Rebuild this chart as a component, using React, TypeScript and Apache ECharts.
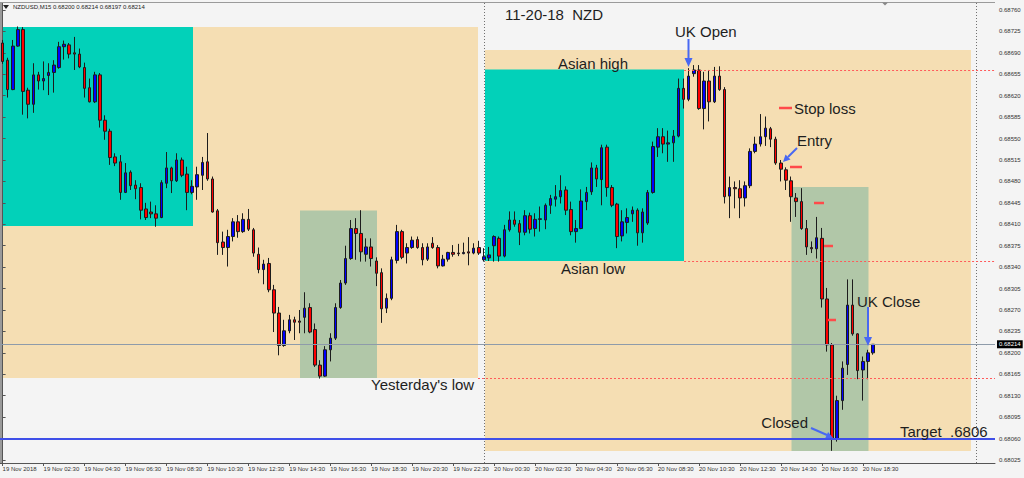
import React, { useEffect, useRef } from "react";
import * as echarts from "echarts";

const FONT = '"Liberation Sans", Arial, sans-serif';

// ---- axis tick labels ----
const xTickLabels = [
  "19 Nov 2018", "19 Nov 02:30", "19 Nov 04:30", "19 Nov 06:30", "19 Nov 08:30",
  "19 Nov 10:30", "19 Nov 12:30", "19 Nov 14:30", "19 Nov 16:30", "19 Nov 18:30",
  "19 Nov 20:30", "19 Nov 22:30", "20 Nov 00:30", "20 Nov 02:30", "20 Nov 04:30",
  "20 Nov 06:30", "20 Nov 08:30", "20 Nov 10:30", "20 Nov 12:30", "20 Nov 14:30",
  "20 Nov 16:30", "20 Nov 18:30",
];
const BARS_PER_LABEL = 8; // M15 bars, label every 2 hours

const yTickValues = [
  0.68025, 0.68060, 0.68095, 0.68130, 0.68165, 0.68200, 0.68235, 0.68270, 0.68305,
  0.68340, 0.68375, 0.68410, 0.68445, 0.68480, 0.68515, 0.68550, 0.68585, 0.68620,
  0.68655, 0.68690, 0.68725, 0.68760,
];

// ---- NZDUSD M15 candles (open, close, low, high) ----
const opens = [
  0.68706, 0.68678, 0.68630, 0.68701, 0.68728, 0.68629, 0.68606, 0.68654, 0.68644, 0.68653,
  0.68658, 0.68666, 0.68700, 0.68703, 0.68690, 0.68688, 0.68666, 0.68633, 0.68610, 0.68654,
  0.68580, 0.68562, 0.68520, 0.68512, 0.68462, 0.68495, 0.68474, 0.68470, 0.68435, 0.68430,
  0.68427, 0.68421, 0.68477, 0.68502, 0.68481, 0.68515, 0.68492, 0.68462, 0.68471, 0.68490,
  0.68512, 0.68484, 0.68432, 0.68381, 0.68372, 0.68390, 0.68414, 0.68398, 0.68418, 0.68401,
  0.68361, 0.68336, 0.68346, 0.68303, 0.68265, 0.68212, 0.68236, 0.68254, 0.68252, 0.68258,
  0.68274, 0.68238, 0.68180, 0.68162, 0.68205, 0.68224, 0.68274, 0.68314, 0.68354, 0.68403,
  0.68395, 0.68361, 0.68373, 0.68350, 0.68331, 0.68273, 0.68289, 0.68351, 0.68398, 0.68363,
  0.68372, 0.68385, 0.68372, 0.68353, 0.68379, 0.68372, 0.68342, 0.68353, 0.68364, 0.68363,
  0.68362, 0.68365, 0.68363, 0.68372, 0.68352, 0.68355, 0.68375, 0.68387, 0.68358, 0.68401,
  0.68417, 0.68411, 0.68397, 0.68424, 0.68403, 0.68418, 0.68417, 0.68441, 0.68451, 0.68455,
  0.68466, 0.68434, 0.68398, 0.68403, 0.68447, 0.68463, 0.68502, 0.68483, 0.68536, 0.68470,
  0.68443, 0.68391, 0.68413, 0.68427, 0.68433, 0.68396, 0.68412, 0.68462, 0.68536, 0.68553,
  0.68541, 0.68543, 0.68554, 0.68632, 0.68614, 0.68656, 0.68662, 0.68599, 0.68644, 0.68610,
  0.68652, 0.68630, 0.68456, 0.68470, 0.68468, 0.68453, 0.68473, 0.68529, 0.68541, 0.68553,
  0.68566, 0.68549, 0.68510, 0.68499, 0.68481, 0.68453, 0.68447, 0.68403, 0.68372, 0.68370,
  0.68387, 0.68288, 0.68213, 0.68060, 0.68122, 0.68181, 0.68278, 0.68231, 0.68172, 0.68186,
  0.68200,
];
const closes = [
  0.68676, 0.68630, 0.68701, 0.68728, 0.68627, 0.68606, 0.68654, 0.68644, 0.68648, 0.68658,
  0.68670, 0.68700, 0.68704, 0.68688, 0.68688, 0.68667, 0.68632, 0.68610, 0.68654, 0.68580,
  0.68562, 0.68519, 0.68510, 0.68462, 0.68494, 0.68473, 0.68468, 0.68433, 0.68421, 0.68427,
  0.68420, 0.68478, 0.68502, 0.68481, 0.68515, 0.68490, 0.68462, 0.68472, 0.68491, 0.68511,
  0.68484, 0.68430, 0.68380, 0.68372, 0.68390, 0.68414, 0.68398, 0.68418, 0.68402, 0.68363,
  0.68336, 0.68345, 0.68303, 0.68265, 0.68212, 0.68236, 0.68254, 0.68250, 0.68250, 0.68273,
  0.68234, 0.68180, 0.68162, 0.68205, 0.68224, 0.68274, 0.68314, 0.68354, 0.68403, 0.68395,
  0.68365, 0.68373, 0.68354, 0.68330, 0.68272, 0.68289, 0.68352, 0.68398, 0.68356, 0.68372,
  0.68384, 0.68372, 0.68352, 0.68373, 0.68372, 0.68342, 0.68353, 0.68364, 0.68361, 0.68362,
  0.68364, 0.68363, 0.68371, 0.68363, 0.68357, 0.68360, 0.68390, 0.68358, 0.68401, 0.68417,
  0.68410, 0.68397, 0.68424, 0.68402, 0.68418, 0.68419, 0.68441, 0.68452, 0.68455, 0.68465,
  0.68433, 0.68398, 0.68403, 0.68448, 0.68462, 0.68502, 0.68484, 0.68535, 0.68470, 0.68441,
  0.68390, 0.68414, 0.68421, 0.68433, 0.68396, 0.68430, 0.68462, 0.68537, 0.68553, 0.68541,
  0.68543, 0.68554, 0.68632, 0.68614, 0.68652, 0.68662, 0.68599, 0.68644, 0.68610, 0.68652,
  0.68630, 0.68455, 0.68470, 0.68468, 0.68453, 0.68473, 0.68529, 0.68541, 0.68553, 0.68567,
  0.68549, 0.68510, 0.68500, 0.68482, 0.68455, 0.68447, 0.68403, 0.68373, 0.68370, 0.68388,
  0.68288, 0.68213, 0.68060, 0.68122, 0.68175, 0.68278, 0.68231, 0.68171, 0.68186, 0.68200,
  0.68214,
];
const lows = [
  0.68672, 0.68617, 0.68629, 0.68700, 0.68589, 0.68583, 0.68592, 0.68630, 0.68629, 0.68621,
  0.68625, 0.68664, 0.68679, 0.68681, 0.68662, 0.68665, 0.68617, 0.68609, 0.68608, 0.68568,
  0.68548, 0.68507, 0.68505, 0.68450, 0.68461, 0.68466, 0.68451, 0.68418, 0.68417, 0.68420,
  0.68406, 0.68420, 0.68469, 0.68461, 0.68479, 0.68487, 0.68433, 0.68459, 0.68450, 0.68466,
  0.68481, 0.68429, 0.68360, 0.68360, 0.68341, 0.68382, 0.68388, 0.68396, 0.68399, 0.68357,
  0.68330, 0.68312, 0.68299, 0.68234, 0.68196, 0.68210, 0.68232, 0.68221, 0.68232, 0.68232,
  0.68232, 0.68177, 0.68158, 0.68161, 0.68186, 0.68221, 0.68272, 0.68311, 0.68352, 0.68352,
  0.68349, 0.68349, 0.68341, 0.68309, 0.68249, 0.68265, 0.68286, 0.68346, 0.68353, 0.68346,
  0.68370, 0.68370, 0.68343, 0.68350, 0.68370, 0.68338, 0.68341, 0.68349, 0.68357, 0.68358,
  0.68361, 0.68343, 0.68361, 0.68360, 0.68349, 0.68350, 0.68349, 0.68349, 0.68356, 0.68398,
  0.68406, 0.68376, 0.68392, 0.68395, 0.68390, 0.68398, 0.68402, 0.68427, 0.68439, 0.68444,
  0.68425, 0.68392, 0.68380, 0.68402, 0.68433, 0.68458, 0.68471, 0.68441, 0.68455, 0.68438,
  0.68371, 0.68382, 0.68395, 0.68414, 0.68375, 0.68380, 0.68409, 0.68460, 0.68520, 0.68526,
  0.68512, 0.68512, 0.68552, 0.68599, 0.68611, 0.68651, 0.68597, 0.68565, 0.68578, 0.68608,
  0.68628, 0.68444, 0.68420, 0.68436, 0.68420, 0.68439, 0.68469, 0.68526, 0.68537, 0.68538,
  0.68536, 0.68507, 0.68480, 0.68466, 0.68414, 0.68422, 0.68401, 0.68360, 0.68363, 0.68354,
  0.68274, 0.68202, 0.68040, 0.68055, 0.68107, 0.68164, 0.68228, 0.68157, 0.68122, 0.68157,
  0.68197,
];
const highs = [
  0.68711, 0.68682, 0.68711, 0.68733, 0.68732, 0.68633, 0.68673, 0.68659, 0.68676, 0.68673,
  0.68678, 0.68708, 0.68710, 0.68706, 0.68716, 0.68697, 0.68674, 0.68648, 0.68659, 0.68657,
  0.68588, 0.68566, 0.68526, 0.68523, 0.68510, 0.68498, 0.68482, 0.68477, 0.68445, 0.68447,
  0.68441, 0.68482, 0.68528, 0.68504, 0.68526, 0.68519, 0.68504, 0.68482, 0.68504, 0.68520,
  0.68559, 0.68488, 0.68435, 0.68398, 0.68401, 0.68420, 0.68425, 0.68428, 0.68435, 0.68404,
  0.68372, 0.68352, 0.68355, 0.68311, 0.68275, 0.68254, 0.68262, 0.68259, 0.68270, 0.68299,
  0.68281, 0.68248, 0.68188, 0.68211, 0.68232, 0.68281, 0.68319, 0.68375, 0.68417, 0.68420,
  0.68433, 0.68387, 0.68387, 0.68356, 0.68338, 0.68297, 0.68357, 0.68409, 0.68401, 0.68379,
  0.68390, 0.68390, 0.68379, 0.68379, 0.68389, 0.68376, 0.68360, 0.68365, 0.68376, 0.68378,
  0.68380, 0.68389, 0.68379, 0.68383, 0.68371, 0.68373, 0.68392, 0.68390, 0.68409, 0.68431,
  0.68431, 0.68417, 0.68433, 0.68429, 0.68428, 0.68439, 0.68444, 0.68458, 0.68474, 0.68490,
  0.68472, 0.68447, 0.68417, 0.68467, 0.68471, 0.68511, 0.68507, 0.68540, 0.68540, 0.68474,
  0.68445, 0.68433, 0.68436, 0.68439, 0.68436, 0.68436, 0.68466, 0.68545, 0.68567, 0.68567,
  0.68563, 0.68564, 0.68648, 0.68648, 0.68665, 0.68670, 0.68670, 0.68659, 0.68662, 0.68667,
  0.68668, 0.68634, 0.68488, 0.68480, 0.68482, 0.68480, 0.68534, 0.68553, 0.68590, 0.68586,
  0.68569, 0.68553, 0.68515, 0.68503, 0.68488, 0.68461, 0.68469, 0.68417, 0.68382, 0.68422,
  0.68404, 0.68306, 0.68216, 0.68130, 0.68186, 0.68320, 0.68320, 0.68232, 0.68194, 0.68205,
  0.68214,
];

// ---- key price levels ----
const lastPrice = 0.68214;
const targetPrice = 0.6806;
const asianHigh = 0.68662;
const asianLow = 0.6835;
const yesterdayLow = 0.68159;
const asianEndBar = 133.1;
const yesterdayLineStartBar = 92.85;

// axis extents (bar index units / price)
const X_MIN = -0.508;
const X_MAX = 193.83;
const Y_MIN = 0.680201;
const Y_MAX = 0.687714;

const ARROW = "#4868F2";
const STOP = "#FF4A4A";
const DOTRED = "#FF5A5A";
const TEXT = "#1E1E1E";

function rect(x: number, y: number, w: number, h: number, fill: string) {
  return { type: "rect", z: 0, silent: true, shape: { x, y, width: w, height: h }, style: { fill } };
}
function seg(x1: number, y1: number, x2: number, y2: number, stroke: string, lineWidth: number, z = 5, lineDash?: number[]) {
  return { type: "line", z, silent: true, shape: { x1, y1, x2, y2 }, style: { stroke, lineWidth, lineDash } };
}
function txt(text: string, x: number, y: number, size = 15, align = "left", fill = TEXT) {
  return {
    type: "text", z: 10, silent: true, x, y,
    style: { text, fill, fontSize: size, fontFamily: FONT, align, verticalAlign: "middle", textAlign: align, textVerticalAlign: "middle" },
  };
}
function head(points: number[][]) {
  return { type: "polygon", z: 10, silent: true, shape: { points }, style: { fill: ARROW } };
}
function hLine(x0: number, x1: number, y: number, lineStyle: any, label: any = { show: false }) {
  return [
    { coord: [x0, y], lineStyle, label },
    { coord: [x1, y], lineStyle, label },
  ];
}

export default function App() {
  const ref = useRef<HTMLDivElement>(null);
  useEffect(() => {
    if (!ref.current) return;
    const chart = echarts.init(ref.current, null, { renderer: "svg" });
    const xTickValues = xTickLabels.map((_, i) => i * BARS_PER_LABEL);
    const last = opens.length - 1;
    const header = `NZDUSD,M15 ${opens[last].toFixed(5)} ${highs[last].toFixed(5)} ${lows[last].toFixed(5)} ${closes[last].toFixed(5)}`;
    const dotted = { color: DOTRED, width: 1, type: [2, 2] };
    const lastLabel = {
      show: true,
      position: "end",
      formatter: lastPrice.toFixed(5),
      backgroundColor: "#000",
      color: "#fff",
      fontSize: 6,
      fontFamily: FONT,
      padding: [1, 2],
      distance: 2,
    };

    const option: any = {
      animation: false,
      backgroundColor: "#F4F4F4",
      grid: { left: 0, top: 3, width: 995, height: 460, containLabel: false, outerBoundsMode: "none" },
      xAxis: {
        type: "value",
        min: X_MIN,
        max: X_MAX,
        axisLine: { show: true, lineStyle: { color: "#555", width: 1 } },
        axisTick: { show: true, customValues: xTickValues, length: 3, lineStyle: { color: "#555" } },
        axisLabel: {
          show: true,
          customValues: xTickValues,
          formatter: (v: number) => xTickLabels[Math.round(v / BARS_PER_LABEL)] ?? "",
          align: "left",
          fontSize: 6,
          fontFamily: FONT,
          color: "#333",
          margin: 3,
        },
        splitLine: { show: false },
      },
      yAxis: {
        type: "value",
        position: "right",
        min: Y_MIN,
        max: Y_MAX,
        axisLine: { show: true, lineStyle: { color: "#555", width: 1 } },
        axisTick: { show: true, customValues: yTickValues, length: 3, lineStyle: { color: "#555" } },
        axisLabel: {
          show: true,
          customValues: yTickValues,
          formatter: (v: number) => v.toFixed(5),
          fontSize: 6,
          fontFamily: FONT,
          color: "#333",
          margin: 4,
        },
        splitLine: { show: false },
      },
      series: [
        {
          type: "candlestick",
          z: 2,
          barWidth: 3,
          data: opens.map((o, i) => [i, o, closes[i], lows[i], highs[i]]),
          itemStyle: {
            color: "#0000FF",
            color0: "#FF0000",
            borderColor: "#1C1C1C",
            borderColor0: "#1C1C1C",
            borderColorDoji: "#1C1C1C",
            borderWidth: 1,
          },
          markLine: {
            silent: true,
            animation: false,
            symbol: ["none", "none"],
            label: { show: false },
            data: [
              hLine(asianEndBar, X_MAX, asianHigh, dotted),
              hLine(asianEndBar, X_MAX, asianLow, dotted),
              hLine(yesterdayLineStartBar, X_MAX, yesterdayLow, dotted),
              hLine(X_MIN, X_MAX, targetPrice, { color: "#3F4FE8", width: 2, type: "solid" }),
              hLine(X_MIN, X_MAX, lastPrice, { color: "#8E9BAA", width: 1, type: "solid" }, lastLabel),
            ],
          },
        },
      ],
      graphic: [
        // session / zone boxes
        rect(1, 27, 477, 351, "#F5DEB3"),
        rect(1, 27, 192, 199, "#02D1B9"),
        rect(300, 210.5, 77, 167.5, "#B1C7A8"),
        rect(485, 50, 486, 401, "#F5DEB3"),
        rect(485, 69.5, 199, 191.5, "#02D1B9"),
        rect(791.5, 187, 77, 264, "#B1C7A8"),
        // borders and separators
        seg(0, 2.5, 995, 2.5, "#9A9A9A", 1, 1),
        seg(1, 3, 1, 463, "#9A9A9A", 2, 1),
        seg(484.5, 3, 484.5, 463, "#707070", 1, 1, [1, 2]),
        seg(976.5, 3, 976.5, 463, "#707070", 1, 1, [1, 2]),
        // header
        { type: "polygon", z: 10, silent: true, shape: { points: [[3, 5], [9, 5], [6, 9]] }, style: { fill: "#222" } },
        txt(header, 13, 7, 6, "left", "#222"),
        { type: "polygon", z: 10, silent: true, shape: { points: [[882, 2.5], [888, 2.5], [885, 5.5]] }, style: { fill: "#888" } },
        // stop-loss markers
        seg(779, 108, 792, 108, STOP, 2.5),
        seg(790, 167, 802, 167, STOP, 2.5),
        seg(814, 203, 824, 203, STOP, 2.5),
        seg(824, 246, 833, 246, STOP, 2.5),
        seg(828, 320, 836, 320, STOP, 2.5),
        // arrows
        seg(688.5, 39, 688.5, 60, ARROW, 2, 10),
        head([[684.5, 58], [692.5, 58], [688.5, 67]]),
        seg(797, 148, 788, 157, ARROW, 2, 10),
        head([[783, 162], [790.5, 159.5], [785.5, 154.5]]),
        seg(868, 307, 868, 338, ARROW, 2, 10),
        head([[864, 337], [872, 337], [868, 346]]),
        seg(811, 428, 827, 435, ARROW, 2, 10),
        head([[833, 438], [825.2, 438.3], [828.1, 431.9]]),
        // annotations
        txt("11-20-18\u00a0\u00a0NZD", 505, 14),
        txt("UK Open", 675, 31),
        txt("Asian high", 558, 63),
        txt("Stop loss", 794, 108),
        txt("Entry", 797, 140),
        txt("Asian low", 561, 268),
        txt("UK Close", 857, 301),
        txt("Yesterday's low", 371, 384),
        txt("Closed", 808, 422, 15, "right"),
        txt("Target\u00a0\u00a0.6806", 900, 431),
      ],
    };
    chart.setOption(option);
    return () => chart.dispose();
  }, []);
  return <div ref={ref} style={{ position: "absolute", left: 0, top: 0, width: 1024, height: 478 }} />;
}
